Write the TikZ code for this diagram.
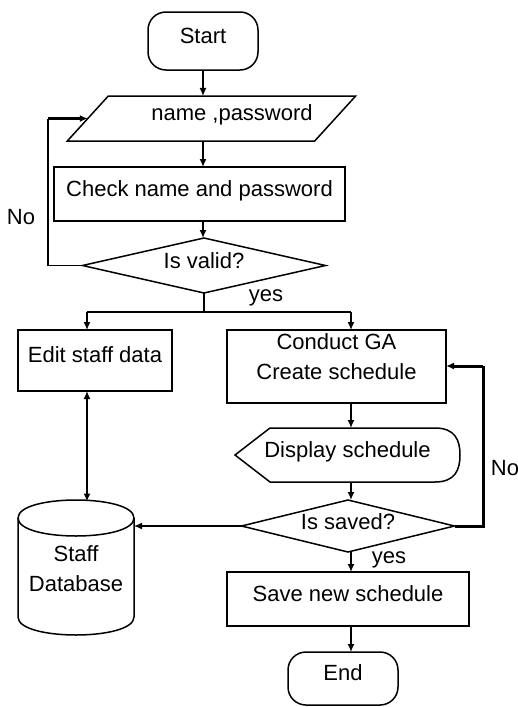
\documentclass[tikz,border=0pt]{standalone}
\usepackage{fontspec}
\setmainfont{Liberation Sans}
\usetikzlibrary{shapes.geometric,arrows.meta}
\begin{document}
\begin{tikzpicture}[x=1pt,y=-1pt,
  every node/.style={font=\fontsize{22}{30}\selectfont},
  >={Latex[length=8pt,width=7pt]},
  ln/.style={line width=1.5pt},
  heavy/.style={line width=3pt},
  arr/.style={ln,->},
  dbl/.style={ln,<->},
  box/.style={draw,ln,rectangle,inner sep=2pt,outer sep=0pt},
  term/.style={box,rounded corners=18pt},
  one/.style={text height=16pt,text depth=12pt},
  dec/.style={draw,ln,diamond,inner sep=0pt,outer sep=0pt,text height=14pt,text depth=8pt},
  io/.style={draw,ln,trapezium,trapezium left angle=38,trapezium right angle=142,
    trapezium stretches body,inner sep=2pt,outer sep=0pt},
]
\fill[white] (0,0) rectangle (518,707);
\useasboundingbox (0,0) rectangle (518,707);

% nodes
\node[term,one,minimum width=110pt,minimum height=58pt] (start) at (203,41) {Start};
\node[io,one,minimum width=281pt,minimum height=45pt] (io) at (211.5,118.5) {\hspace*{41pt}name ,password};
\node[box,one,minimum width=291pt,minimum height=54pt] (check) at (199.5,194) {Check name and password};
\node[dec,minimum width=243pt,minimum height=55pt,aspect=4.4] (valid) at (204,265.5) {Is valid?};
\node[box,one,minimum width=154pt,minimum height=61pt] (edit) at (95,360.5) {Edit staff data};
\node[box,align=center,text depth=19pt,minimum width=219pt,minimum height=73pt] (conduct) at (336.5,366.5) {Conduct GA\\Create schedule};
\node[one,inner sep=0pt,outer sep=0pt,minimum width=225pt,minimum height=54pt] (disp) at (347.5,455) {Display schedule};
\node[dec,minimum width=213pt,minimum height=52pt,aspect=4.1] (saved) at (348,526) {Is saved?};
\node[box,one,minimum width=242pt,minimum height=54pt] (save) at (348,599) {Save new schedule};
\node[term,one,minimum width=110pt,minimum height=53pt] (end) at (343,678.5) {End};
\node[inner sep=0pt,outer sep=0pt,minimum width=116pt,minimum height=135pt,align=center] (db) at (76,569) {Staff\\Database};

% shapes drawn directly
\draw[ln] (235,455) -- (270,428) -- (435,428)
  .. controls (455,428) and (460,440) .. (460,455)
  .. controls (460,470) and (455,482) .. (435,482) -- (270,482) -- cycle;
\draw[ln] (18,518) .. controls (18,494) and (134,494) .. (134,518)
  .. controls (134,542) and (18,542) .. (18,518);
\draw[ln] (18,518) -- (18,617) .. controls (18,641) and (134,641) .. (134,617) -- (134,518);

% labels
\node (no1) at (21,217) {No};
\node (no2) at (505,468) {No};
\node (yes1) at (266,298) {yes};
\node (yes2) at (389,560) {yes};

% coordinates
\coordinate (fL) at (87,312);
\coordinate (fR) at (351,312);
\coordinate (nc) at (48,118.5);
\coordinate (nr) at (483,366);

% connectors
\draw[arr] (start.south) -- (start.south |- io.north);
\draw[arr] (io.south -| start.south) -- (check.north -| start.south);
\draw[arr] (check.south -| start.south) -- (valid.north -| start.south);
\draw[ln] (valid.south) -- (valid.south |- fL);
\draw[ln] (fL) -- (fR);
\draw[arr] (fL) -- (fL |- edit.north);
\draw[arr] (fR) -- (fR |- conduct.north);
\draw[ln] (valid.west) -| (nc);
\draw[arr,heavy] (nc) -- (io.left side);
\draw[dbl] (fL |- edit.south) -- (fL |- db.north);
\draw[arr] (fR |- conduct.south) -- (fR |- disp.north);
\draw[arr] (fR |- disp.south) -- (fR |- saved.north);
\draw[arr] (saved.west) -- (saved.west -| db.east);
\draw[heavy] (saved.east) -| (nr);
\draw[arr,heavy] (nr) -- (nr -| conduct.east);
\draw[arr] (fR |- saved.south) -- (fR |- save.north);
\draw[arr] (fR |- save.south) -- (fR |- end.north);
\end{tikzpicture}
\end{document}
